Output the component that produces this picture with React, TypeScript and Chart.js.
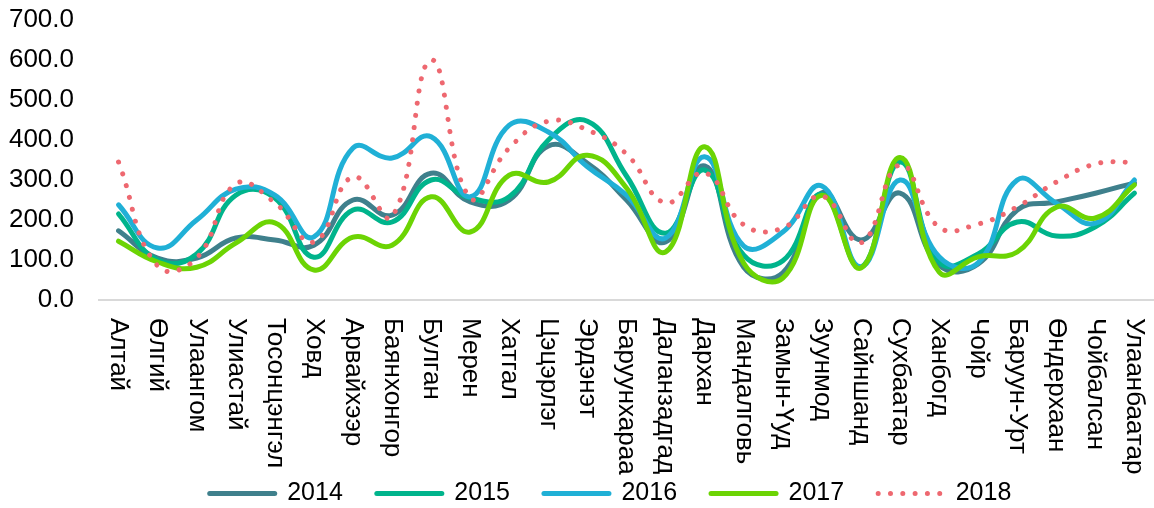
import React, { useEffect, useRef } from "react";
import { Chart, registerables } from "chart.js";

Chart.register(...registerables);

const categories = [
  "Алтай", "Өлгий", "Улаангом", "Улиастай", "Тосонцэнгэл", "Ховд", "Арвайхээр",
  "Баянхонгор", "Булган", "Мерен", "Хатгал", "Цэцэрлэг", "Эрдэнэт", "Баруунхараа",
  "Даланзадгад", "Дархан", "Мандалговь", "Замын-Үуд", "Зуунмод", "Сайншанд",
  "Сухбаатар", "Ханбогд", "Чойр", "Баруун-Урт", "Өндерхаан", "Чойбалсан", "Улаанбаатар",
];

const s2014 = [173, 105, 105, 155, 150, 137, 250, 212, 317, 245, 250, 385, 342, 250, 145, 335, 82, 68, 268, 150, 267, 87, 90, 225, 245, 267, 293];
const s2015 = [215, 100, 115, 262, 255, 107, 225, 195, 300, 255, 258, 400, 447, 310, 167, 325, 112, 98, 265, 82, 345, 95, 115, 195, 160, 183, 267];
const s2016 = [238, 130, 200, 277, 262, 158, 380, 355, 408, 258, 437, 420, 333, 262, 155, 358, 135, 170, 285, 83, 300, 108, 93, 300, 242, 192, 300];
const s2017 = [147, 95, 82, 142, 193, 75, 157, 137, 258, 170, 312, 295, 362, 280, 120, 383, 92, 55, 262, 80, 356, 70, 108, 120, 232, 205, 288];
const s2018 = [345, 85, 105, 290, 243, 145, 308, 208, 600, 255, 380, 447, 425, 365, 243, 318, 188, 180, 260, 143, 338, 182, 190, 233, 295, 340, 345];

const seriesNames = ["2014", "2015", "2016", "2017", "2018"];
const seriesColors = ["#3F808C", "#00B48C", "#20B0D6", "#6CD404", "#EE6870"];
const yTicks = [0, 100, 200, 300, 400, 500, 600, 700];

const FONT = "'Liberation Sans', Arial, sans-serif";
const DOTS = [0.01, 12.3];

const xLabelPlugin = {
  id: "xLabelPlugin",
  afterLayout(chart: any) {
    if (chart.legend) {
      chart.legend.left += 32;
      chart.legend.right += 32;
    }
  },
  afterDraw(chart: any) {
    const ctx = chart.ctx;
    const xs = chart.scales.x;
    const top = chart.chartArea.bottom + 18;
    ctx.save();
    ctx.fillStyle = "#000";
    ctx.font = `26px ${FONT}`;
    ctx.textAlign = "left";
    ctx.textBaseline = "middle";
    categories.forEach((label, i) => {
      const x = xs.getPixelForValue(i);
      ctx.save();
      ctx.translate(x, top);
      ctx.rotate(Math.PI / 2);
      ctx.fillText(label, 0, 0);
      ctx.restore();
    });
    ctx.restore();
  },
};

export default function App() {
  const ref = useRef<HTMLCanvasElement | null>(null);

  useEffect(() => {
    if (!ref.current) return;
    const values = [s2014, s2015, s2016, s2017, s2018];
    const datasets = values.map((v, i) => ({
      label: seriesNames[i],
      data: v,
      borderColor: seriesColors[i],
      backgroundColor: seriesColors[i],
      borderWidth: 5,
      borderCapStyle: "round" as const,
      borderJoinStyle: "round" as const,
      borderDash: i === 4 ? DOTS : [],
      pointRadius: 0,
      pointHoverRadius: 0,
      tension: 0.45,
      fill: false,
      order: 4 - i,
    }));

    const chart = new Chart(ref.current, {
      type: "line",
      data: { labels: categories, datasets },
      plugins: [xLabelPlugin],
      options: {
        animation: false,
        responsive: true,
        maintainAspectRatio: false,
        layout: { padding: { top: 20, left: 0, right: -3, bottom: -8 } },
        plugins: {
          tooltip: { enabled: false },
          legend: {
            position: "bottom",
            labels: {
              usePointStyle: true,
              pointStyle: "line",
              pointStyleWidth: 65,
              padding: 34,
              color: "#000",
              font: { size: 25, family: FONT },
              generateLabels: () =>
                seriesNames.map((name, i) => ({
                  text: name,
                  fillStyle: seriesColors[i],
                  strokeStyle: seriesColors[i],
                  lineWidth: 5,
                  lineCap: "round",
                  lineDash: i === 4 ? DOTS : [],
                  pointStyle: "line",
                  hidden: false,
                  datasetIndex: i,
                  fontColor: "#000",
                })),
            },
          },
        },
        scales: {
          x: {
            offset: true,
            grid: { display: false, drawTicks: false },
            border: { display: true, color: "#D9D9D9", width: 2 },
            ticks: { display: false },
            afterFit: (s: any) => {
              s.height = 147;
            },
          },
          y: {
            min: 0,
            max: 700,
            afterBuildTicks: (s: any) => {
              s.ticks = yTicks.map((v) => ({ value: v }));
            },
            grid: { display: false, drawTicks: false },
            border: { display: false },
            ticks: {
              padding: 25,
              color: "#000",
              font: { size: 26, family: FONT },
              callback: (v: any) => Number(v).toFixed(1),
            },
            afterFit: (s: any) => {
              s.width = 99;
              s.paddingTop = 10;
              s.paddingBottom = 10;
            },
          },
        },
      },
    });
    return () => chart.destroy();
  }, []);

  return (
    <div style={{ position: "fixed", left: 0, top: 0, width: 1154, height: 508, background: "#fff" }}>
      <canvas ref={ref} />
    </div>
  );
}
